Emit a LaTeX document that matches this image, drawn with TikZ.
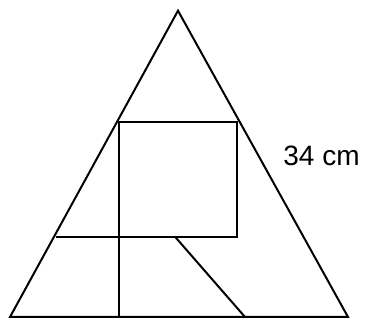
\documentclass[tikz,border=0pt]{standalone}
\usepackage{fontspec}
\setmainfont{Liberation Sans}
\usetikzlibrary{calc}
\tikzset{
  edge/.style={draw=black, line width=2pt, line join=miter},
  lbl/.style={font=\fontsize{28}{32}\selectfont, inner sep=0pt},
}
\begin{document}
\begin{tikzpicture}[x=1pt, y=-1pt]
  \useasboundingbox (0,0) rectangle (367,320);

  % corner points
  \coordinate (apex) at (178,10.7);
  \coordinate (bl) at (10,317);
  \coordinate (br) at (348,317);
  \coordinate (sqtl) at (119.3,121.7);
  \coordinate (sqtr) at (237.3,121.7);
  \coordinate (sqbr) at (237.3,236.7);
  \coordinate (sqbl) at (119.3,236.7);
  \coordinate (midl) at (55.5,236.7);
  \coordinate (vbot) at (119.3,317);
  \coordinate (dtop) at (175,236.7);
  \coordinate (dbot) at (245,317);

  \draw[edge] (apex) -- (bl) -- (br) -- cycle;
  \draw[edge] (sqtl) rectangle (sqbr);
  \draw[edge] (midl) -- (sqbl);
  \draw[edge] (sqbl) -- (vbot);
  \draw[edge] (dtop) -- (dbot);

  \node[lbl] (side) at (321.5,156) {34 cm};
\end{tikzpicture}
\end{document}
